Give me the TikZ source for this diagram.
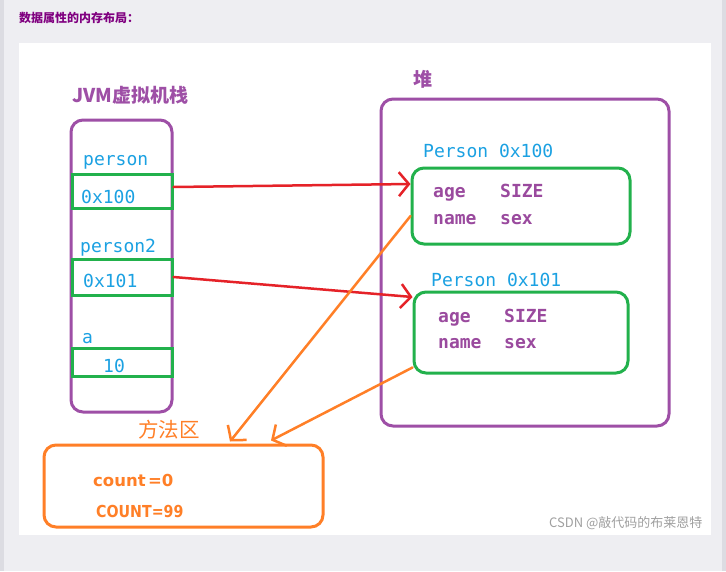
\documentclass[tikz,border=0pt]{standalone}
\usepackage{fontspec}
\setmainfont{DejaVu Sans}
\newfontfamily\cjk{Noto Sans CJK SC}
\newfontfamily\monof{DejaVu Sans Mono}
\usetikzlibrary{arrows.meta}
\definecolor{bg}{HTML}{EEEEF2}
\definecolor{edge}{HTML}{DCDCE2}
\definecolor{vpurple}{HTML}{9E4FA6}
\definecolor{tpurple}{HTML}{9A4A9E}
\definecolor{vgreen}{HTML}{22B14C}
\definecolor{vblue}{HTML}{1BA1E2}
\definecolor{vorange}{HTML}{FF7F27}
\definecolor{vred}{HTML}{E52228}
\definecolor{ttl}{HTML}{800080}
\definecolor{wm}{HTML}{A0A0A0}
\tikzset{
  frame/.style={draw=vpurple, line width=3pt, rounded corners=12pt, inner sep=0pt},
  cellbox/.style={draw=vgreen, line width=3pt, inner sep=0pt, minimum width=100pt},
  objbox/.style={draw=vgreen, line width=3pt, rounded corners=12pt, inner sep=0pt},
  areabox/.style={draw=vorange, line width=3pt, rounded corners=12pt, inner sep=0pt},
  bluetxt/.style={text=vblue, font=\monof\fontsize{18}{18}\selectfont, anchor=base west, inner sep=0pt},
  purtxt/.style={text=tpurple, font=\monof\bfseries\fontsize{18}{18}\selectfont, anchor=base west, inner sep=0pt},
  orgtxt/.style={text=vorange, font=\bfseries\fontsize{16.5}{16.5}\selectfont, anchor=base west, inner sep=0pt},
  cjktxt/.style={font=\cjk\fontsize{19}{19}\selectfont, anchor=west, inner sep=0pt},
  redref/.style={draw=vred, -{Straight Barb[length=10pt,width=24pt]}, line width=2.5pt, line cap=round},
  orgref/.style={draw=vorange, -{Straight Barb[length=10pt,width=24pt]}, line width=2.5pt, line cap=round},
}
\begin{document}
\begin{tikzpicture}[x=1pt,y=-1pt]
% background
\fill[bg] (0,0) rectangle (726,571);
\fill[edge] (0,0) rectangle (4,571);
\fill[edge] (722,0) rectangle (726,571);
\fill[white] (19,43) rectangle (711,535);
\useasboundingbox (0,0) rectangle (726,571);

% title
\node[anchor=west, inner sep=0pt, text=ttl, font=\cjk\bfseries\fontsize{12}{12}\selectfont] (title) at (19,17.5) {数据属性的内存布局：};

% JVM stack
\node[cjktxt, text=vpurple, font=\cjk\bfseries\fontsize{19}{19}\selectfont] (stacklbl) at (72,95.5) {JVM虚拟机栈};
\node[frame, minimum width=101pt, minimum height=292pt] (stack) at (121.5,266) {};
\node[cellbox, minimum height=34pt] (s1) at (122,191.5) {};
\node[cellbox, minimum height=36pt] (s2) at (122,277) {};
\node[cellbox, minimum height=28pt] (s3) at (122,362.5) {};
\node[bluetxt] (v1) at (83,165) {person};
\node[bluetxt] (a1) at (81,203) {0x100};
\node[bluetxt] (v2) at (80,252) {person2};
\node[bluetxt] (a2) at (83,287) {0x101};
\node[bluetxt] (v3) at (82,343) {a};
\node[bluetxt] (a3) at (103,372) {10};

% heap
\node[cjktxt, text=vpurple, font=\cjk\bfseries\fontsize{19}{19}\selectfont] (heaplbl) at (413,79.5) {堆};
\node[frame, minimum width=288pt, minimum height=327pt] (heap) at (525,262.5) {};
\node[bluetxt] (p1) at (423,157) {Person 0x100};
\node[objbox, minimum width=218pt, minimum height=76pt] (h1) at (521,206) {};
\node[purtxt] (h1a) at (433,197) {age};
\node[purtxt] (h1b) at (500,197) {SIZE};
\node[purtxt] (h1c) at (433,224) {name};
\node[purtxt] (h1d) at (500,224) {sex};
\node[bluetxt] (p2) at (431,286) {Person 0x101};
\node[objbox, minimum width=214pt, minimum height=81pt] (h2) at (521,332.5) {};
\node[purtxt] (h2a) at (438,322) {age};
\node[purtxt] (h2b) at (504,322) {SIZE};
\node[purtxt] (h2c) at (438,348) {name};
\node[purtxt] (h2d) at (504,348) {sex};

% method area
\node[cjktxt, text=vorange, font=\cjk\fontsize{20.5}{20.5}\selectfont] (marealbl) at (138,429.5) {方法区};
\node[areabox, minimum width=279pt, minimum height=82pt] (marea) at (183.5,486) {};
\node[orgtxt] (m1) at (93,486) {count\hspace{0.15em}=0};
\node[orgtxt] (m2) at (96,517) {\scalebox{0.86}[1]{COUNT=99}};

% references
\draw[redref] ([yshift=4.5pt]s1.east) -- ([yshift=22pt]h1.west);
\draw[redref] (s2.east) -- ([yshift=35.5pt]h2.west);
\draw[orgref] ([yshift=-10pt]h1.west) -- ([xshift=46.5pt,yshift=2pt]marea.north);
\draw[orgref] ([yshift=7pt]h2.south west) -- ([xshift=87.5pt,yshift=3pt]marea.north);

% watermark
\node[anchor=west, inner sep=0pt, text=wm, font=\cjk\fontsize{13}{13}\selectfont] (wmark) at (549,523.5) {CSDN @敲代码的布莱恩特};
\end{tikzpicture}
\end{document}
